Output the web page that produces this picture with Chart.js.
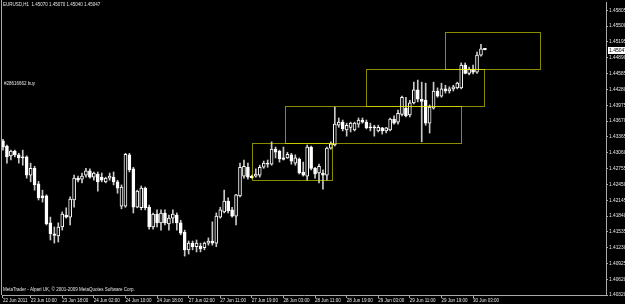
<!DOCTYPE html>
<html>
<head>
<meta charset="utf-8">
<script src="https://cdn.jsdelivr.net/npm/chart.js@4.4.1/dist/chart.umd.min.js"></script>
<style>
  html, body { margin: 0; padding: 0; background: #000; }
</style>
</head>
<body>
<canvas id="eurChart" width="625" height="304"></canvas>
<script>
// EURUSD H1 candles (bar 0 = first visible bar)
const opens = [
  1.4329,1.4319,1.4300,1.4309,1.4302,1.4298,1.4298,1.4263,1.4276,1.4246,
  1.4223,1.4223,1.4171,1.4150,1.4146,1.4163,1.4186,1.4182,1.4215,1.4257,
  1.4255,1.4263,1.4271,1.4259,1.4265,1.4259,1.4250,1.4257,1.4259,1.4250,
  1.4203,1.4203,1.4302,1.4275,1.4201,1.4200,1.4238,1.4201,1.4163,1.4188,
  1.4171,1.4190,1.4169,1.4180,1.4186,1.4171,1.4153,1.4119,1.4132,1.4125,
  1.4126,1.4123,1.4132,1.4136,1.4132,1.4182,1.4192,1.4213,1.4196,1.4184,
  1.4223,1.4261,1.4278,1.4261,1.4261,1.4263,1.4278,1.4286,1.4284,1.4313,
  1.4309,1.4296,1.4296,1.4302,1.4286,1.4294,1.4269,1.4261,1.4317,1.4276,
  1.4267,1.4267,1.4263,1.4315,1.4321,1.4359,1.4365,1.4350,1.4355,1.4350,
  1.4361,1.4369,1.4365,1.4355,1.4355,1.4348,1.4354,1.4348,1.4350,1.4371,
  1.4365,1.4380,1.4392,1.4379,1.4402,1.4427,1.4409,1.4407,1.4363,1.4392,
  1.4425,1.4415,1.4429,1.4425,1.4429,1.4431,1.4431,1.4475,1.4459,1.4467,
  1.4461,1.4494,1.45070
];
const highs = [
  1.4332,1.4321,1.4311,1.4311,1.4305,1.4311,1.4300,1.4286,1.4280,1.4251,
  1.4234,1.4225,1.4182,1.4163,1.4171,1.4192,1.4200,1.4221,1.4263,1.4261,
  1.4267,1.4276,1.4275,1.4269,1.4269,1.4267,1.4259,1.4267,1.4269,1.4253,
  1.4244,1.4305,1.4305,1.4278,1.4234,1.4242,1.4240,1.4205,1.4190,1.4196,
  1.4196,1.4196,1.4186,1.4196,1.4190,1.4176,1.4157,1.4136,1.4136,1.4138,
  1.4132,1.4134,1.4142,1.4173,1.4190,1.4201,1.4234,1.4219,1.4201,1.4226,
  1.4286,1.4292,1.4286,1.4263,1.4275,1.4282,1.4290,1.4292,1.4327,1.4317,
  1.4311,1.4317,1.4307,1.4305,1.4302,1.4296,1.4288,1.4321,1.4319,1.4278,
  1.4284,1.4273,1.4317,1.4327,1.4394,1.4373,1.4369,1.4363,1.4365,1.4365,
  1.4373,1.4373,1.4369,1.4363,1.4359,1.4359,1.4355,1.4355,1.4373,1.4377,
  1.4388,1.4415,1.4413,1.4407,1.4442,1.4446,1.4442,1.4440,1.4398,1.4442,
  1.4431,1.4440,1.4436,1.4433,1.4436,1.4442,1.4479,1.4479,1.4471,1.4475,
  1.4500,1.4515,1.45070
];
const lows = [
  1.4311,1.4286,1.4292,1.4298,1.4286,1.4282,1.4257,1.4250,1.4234,1.4215,
  1.4211,1.4167,1.4138,1.4132,1.4134,1.4157,1.4180,1.4167,1.4201,1.4250,
  1.4248,1.4259,1.4257,1.4253,1.4232,1.4250,1.4248,1.4253,1.4244,1.4228,
  1.4198,1.4201,1.4269,1.4190,1.4200,1.4196,1.4196,1.4159,1.4159,1.4163,
  1.4157,1.4167,1.4157,1.4171,1.4157,1.4148,1.4107,1.4111,1.4119,1.4115,
  1.4115,1.4119,1.4128,1.4128,1.4125,1.4180,1.4190,1.4190,1.4182,1.4167,
  1.4221,1.4257,1.4255,1.4257,1.4259,1.4259,1.4276,1.4278,1.4282,1.4296,
  1.4288,1.4292,1.4295,1.4284,1.4282,1.4265,1.4261,1.4253,1.4273,1.4257,
  1.4248,1.4236,1.4253,1.4313,1.4319,1.4355,1.4348,1.4338,1.4346,1.4348,
  1.4355,1.4363,1.4352,1.4348,1.4338,1.4346,1.4342,1.4344,1.4348,1.4361,
  1.4361,1.4377,1.4375,1.4375,1.4400,1.4404,1.4327,1.4359,1.4344,1.4390,
  1.4413,1.4413,1.4421,1.4421,1.4425,1.4429,1.4429,1.4458,1.4456,1.4458,
  1.4459,1.4492,1.45040
];
const closes = [
  1.4317,1.4298,1.4309,1.4302,1.4296,1.4296,1.4263,1.4276,1.4244,1.4219,
  1.4219,1.4169,1.4150,1.4147,1.4163,1.4188,1.4182,1.4217,1.4257,1.4253,
  1.4261,1.4271,1.4259,1.4267,1.4250,1.4253,1.4257,1.4261,1.4250,1.4238,
  1.4240,1.4303,1.4273,1.4201,1.4232,1.4238,1.4200,1.4163,1.4188,1.4171,
  1.4190,1.4171,1.4180,1.4188,1.4171,1.4151,1.4119,1.4132,1.4125,1.4132,
  1.4121,1.4132,1.4136,1.4132,1.4184,1.4196,1.4213,1.4194,1.4184,1.4225,
  1.4278,1.4280,1.4259,1.4258,1.4265,1.4278,1.4286,1.4284,1.4313,1.4307,
  1.4294,1.4293,1.4303,1.4290,1.4296,1.4267,1.4263,1.4317,1.4276,1.4265,
  1.4280,1.4263,1.4315,1.4323,1.4361,1.4365,1.4352,1.4359,1.4363,1.4363,
  1.4369,1.4365,1.4354,1.4354,1.4354,1.4355,1.4348,1.4354,1.4371,1.4363,
  1.4382,1.4413,1.4377,1.4402,1.4427,1.4409,1.4405,1.4363,1.4394,1.4425,
  1.4415,1.4429,1.4425,1.4429,1.4433,1.4440,1.4475,1.4459,1.4467,1.4461,
  1.4494,1.4506,1.45047
];

// time axis labels (bar index -> text)
const xTickIdx  = [0, 7, 15, 23, 31, 39, 47, 55, 63, 71, 79, 87, 95, 103, 111, 119];
const xTickText = ['22 Jun 2011', '23 Jun 10:00', '23 Jun 18:00', '24 Jun 02:00', '24 Jun 10:00',
  '24 Jun 18:00', '27 Jun 02:00', '27 Jun 11:00', '27 Jun 19:00', '28 Jun 03:00', '28 Jun 11:00',
  '28 Jun 19:00', '29 Jun 03:00', '29 Jun 11:00', '29 Jun 19:00', '30 Jun 03:00'];

// price axis labels
const yTickVals = [1.45805, 1.45500, 1.45195, 1.44890, 1.44585, 1.44280, 1.43975, 1.43670,
  1.43365, 1.43060, 1.42755, 1.42450, 1.42145, 1.41840, 1.41535, 1.41230, 1.40925, 1.40620, 1.40320];

// yellow rectangles drawn on the chart (bar index from/to, price low/high)
const boxFrom = [63.0, 71.4, 91.9, 111.9];
const boxTo   = [83.3, 115.9, 121.8, 135.9];
const boxLow  = [1.4253, 1.4325, 1.4396, 1.4467];
const boxHigh = [1.4325, 1.4396, 1.4467, 1.4538];

const titleText  = 'EURUSD,H1  1.45070 1.45070 1.45040 1.45047';
const orderText  = '#28616662 buy';
const footerText = 'MetaTrader - Alpari UK, \u00a9 2001-2009 MetaQuotes Software Corp.';

const FONT = 'Liberation Sans';

//bull candles are hollow, bear candles white
const bodyFill = opens.map((o, i) => closes[i] > o ? '#000000' : '#ffffff');

//fixed axis sizes, no extra label padding
function fixSize(prop, size) {
    return s => {
        s[prop] = size;
        s.paddingLeft = 0;
        s.paddingRight = 0;
        s.paddingTop = 0;
        s.paddingBottom = 0;
    };
}

const overlay = {
    id: 'overlay',
    beforeDraw(chart) {
        const c = chart.ctx;
        c.save();
        c.fillStyle = '#000';
        c.fillRect(0, 0, chart.width, chart.height);
        c.restore();
    },
    afterDatasetsDraw(chart) {
        const c = chart.ctx;
        const xs = chart.scales.x, ys = chart.scales.y;
        c.save();
        c.strokeStyle = 'rgba(255,255,0,0.55)';
        c.lineWidth = 1;
        for (let i = 0; i < boxFrom.length; i++) {
            const x0 = Math.round(xs.getPixelForValue(boxFrom[i])) + 0.5;
            const x1 = Math.round(xs.getPixelForValue(boxTo[i])) + 0.5;
            const y0 = Math.round(ys.getPixelForValue(boxHigh[i])) + 0.5;
            const y1 = Math.round(ys.getPixelForValue(boxLow[i])) + 0.5;
            c.strokeRect(x0, y0, x1 - x0, y1 - y0);
        }
        c.restore();
    },
    afterDraw(chart) {
        const c = chart.ctx;
        const area = chart.chartArea;
        const ys = chart.scales.y;
        c.save();
        // frame on the left side
        c.strokeStyle = '#aaaaaa';
        c.lineWidth = 1;
        c.beginPath();
        c.moveTo(1.5, 0);
        c.lineTo(1.5, area.bottom);
        c.stroke();

        c.fillStyle = '#e6e6e6';
        c.font = '4.5px "' + FONT + '"';
        c.textBaseline = 'middle';
        c.textAlign = 'left';
        c.fillText(titleText, 3, 5);
        c.fillText(orderText, 4, 84);
        c.fillText(footerText, 3, 290);

        // current price marker
        const last = closes[closes.length - 1];
        const py = Math.round(ys.getPixelForValue(last));
        c.fillStyle = '#ffffff';
        c.fillRect(area.right + 2, py - 3, 20, 7);
        c.fillStyle = '#000000';
        c.font = '5px "' + FONT + '"';
        c.fillText(last.toFixed(5), area.right + 3, py + 0.5);
        c.restore();
    }
};

const ctx = document.getElementById('eurChart').getContext('2d');

const eurChart = new Chart(ctx, {
    type: 'bar',
    data: {
        datasets: [
            {
                label: 'body',
                data: opens.map((o, i) => ({ x: i, y: [o, closes[i]] })),
                backgroundColor: bodyFill,
                borderColor: '#ffffff',
                borderWidth: 1,
                borderSkipped: false,
                barThickness: 3,
                minBarLength: 1,
                grouped: false
            },
            {
                label: 'wick',
                data: lows.map((l, i) => ({ x: i, y: [l, highs[i]] })),
                backgroundColor: '#c8c8c8',
                borderWidth: 0,
                barThickness: 1,
                grouped: false
            }
        ]
    },
    options: {
        responsive: false,
        animation: false,
        layout: { padding: { left: 2, top: 2, right: 0, bottom: 0 } },
        scales: {
            x: {
                type: 'linear',
                position: 'bottom',
                offset: false,
                min: -0.25,
                max: 152.65,
                afterBuildTicks: s => { s.ticks = xTickIdx.map(v => ({ value: v })); },
                afterFit: fixSize('height', 9),
                grid: { offset: false, drawOnChartArea: false, drawTicks: true, tickLength: 3, color: '#aaaaaa' },
                border: { color: '#aaaaaa' },
                ticks: {
                    color: '#e6e6e6',
                    font: { family: FONT, size: 4.5 },
                    align: 'start',
                    padding: 0,
                    maxRotation: 0,
                    autoSkip: false,
                    callback: (v, i) => xTickText[i]
                }
            },
            y: {
                position: 'right',
                min: 1.40320,
                max: 1.45964,
                afterBuildTicks: s => { s.ticks = yTickVals.map(v => ({ value: v })); },
                afterFit: fixSize('width', 19),
                grid: { drawOnChartArea: false, drawTicks: true, tickLength: 2, color: '#aaaaaa' },
                border: { color: '#aaaaaa' },
                ticks: {
                    color: '#e6e6e6',
                    font: { family: FONT, size: 4.8 },
                    padding: 1,
                    callback: v => v.toFixed(5)
                }
            }
        },
        plugins: {
            legend: { display: false },
            tooltip: { enabled: false }
        }
    },
    plugins: [overlay]
});
</script>
</body>
</html>
